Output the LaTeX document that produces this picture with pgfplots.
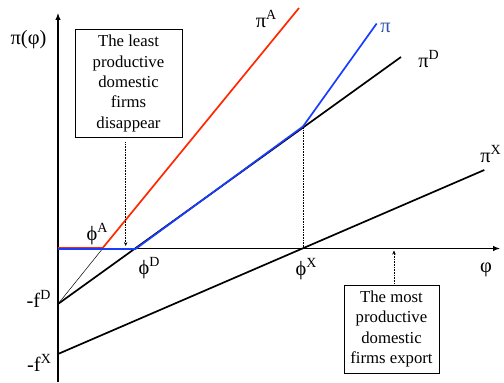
\documentclass[border=0pt]{standalone}
\usepackage{pgfplots}
\pgfplotsset{compat=1.18}
\usepackage{fontspec}
\setmainfont{Liberation Serif}
\usetikzlibrary{arrows.meta}
\definecolor{profA}{RGB}{255,40,0}
\definecolor{profT}{RGB}{25,60,255}
\definecolor{profLbl}{RGB}{45,80,170}
\newcommand{\up}[1]{\raisebox{0.8ex}{\fontsize{14}{14}\selectfont #1}}
\newcommand{\lbl}{\fontsize{20.5}{24}\selectfont}
\newcommand{\boxfont}{\fontsize{16.8}{20.5}\selectfont}
\begin{document}
\begin{tikzpicture}
\begin{axis}[
  width=504bp, height=382bp, scale only axis,
  xmin=-58, xmax=446, ymin=-133.5, ymax=248.5,
  hide axis, clip=false,
]
% keep the full plotting area as the picture's extent
\path (rel axis cs:0,0) rectangle (rel axis cs:1,1);
% axes
\addplot[black, line width=1.1pt, -{Latex[length=7pt,width=5.5pt]}] coordinates {(0,0) (442,0)};
\addplot[black, line width=1.1pt, -{Latex[length=7pt,width=5.5pt]}] coordinates {(0,-133.5) (0,235.5)};
% domestic profits pi^D
\addplot[black, line width=1.7pt] coordinates {(0,-55.5) (343,191.5)};
% thin extension of pi^A below zero
\addplot[black, line width=0.5pt] coordinates {(0,-55.5) (44.7,0)};
% export profits pi^X
\addplot[black, line width=1.7pt] coordinates {(0,-105.5) (426.3,78.5)};
% autarky profits pi^A
\addplot[profA, line width=1.7pt] coordinates {(0,0.5) (44.7,0.5) (241,240.5)};
% total profits pi
\addplot[profT, line width=1.7pt] coordinates {(0,-0.5) (77.5,-0.5) (245,122) (318.7,225)};
% dotted guides
\addplot[black, line width=0.6pt, densely dotted] coordinates {(245,0) (245,122)};
\addplot[black, line width=0.6pt, densely dotted, -{Stealth[length=4pt,width=3.5pt]}] coordinates {(67.7,106) (67.7,2.5)};
\addplot[black, line width=0.6pt, densely dotted, -{Stealth[length=4pt,width=3.5pt]}] coordinates {(336,-35) (336,-2)};
% labels
\node[font=\lbl] at (axis cs:-29.5,208.5) {π(φ)};
\node[font=\lbl] at (axis cs:428,-21.5) {φ};
\node[font=\lbl] at (axis cs:39,14.5) {ϕ\up{A}};
\node[font=\lbl] at (axis cs:91,-19.5) {ϕ\up{D}};
\node[font=\lbl] at (axis cs:248,-20.5) {ϕ\up{X}};
\node[font=\lbl] at (axis cs:-19.5,-50.5) {-f\up{D}};
\node[font=\lbl] at (axis cs:-19,-114.5) {-f\up{X}};
\node[font=\lbl] at (axis cs:208,229.5) {π\up{A}};
\node[font=\lbl, text=profLbl] at (axis cs:327.5,220.5) {π};
\node[font=\lbl] at (axis cs:370.5,189.5) {π\up{D}};
\node[font=\lbl] at (axis cs:432.5,94.5) {π\up{X}};
% boxes
\node[draw, line width=0.8pt, fill=white, align=center, font=\boxfont,
      minimum width=107bp, minimum height=108bp, inner sep=2pt]
  at (axis cs:70.5,165) {The least\\productive\\domestic\\firms\\disappear};
\node[draw, line width=0.8pt, fill=white, align=center, font=\boxfont,
      minimum width=95bp, minimum height=88bp, inner sep=2pt]
  at (axis cs:333.5,-80.5) {The most\\productive\\domestic\\firms export};
\end{axis}
\end{tikzpicture}
\end{document}
